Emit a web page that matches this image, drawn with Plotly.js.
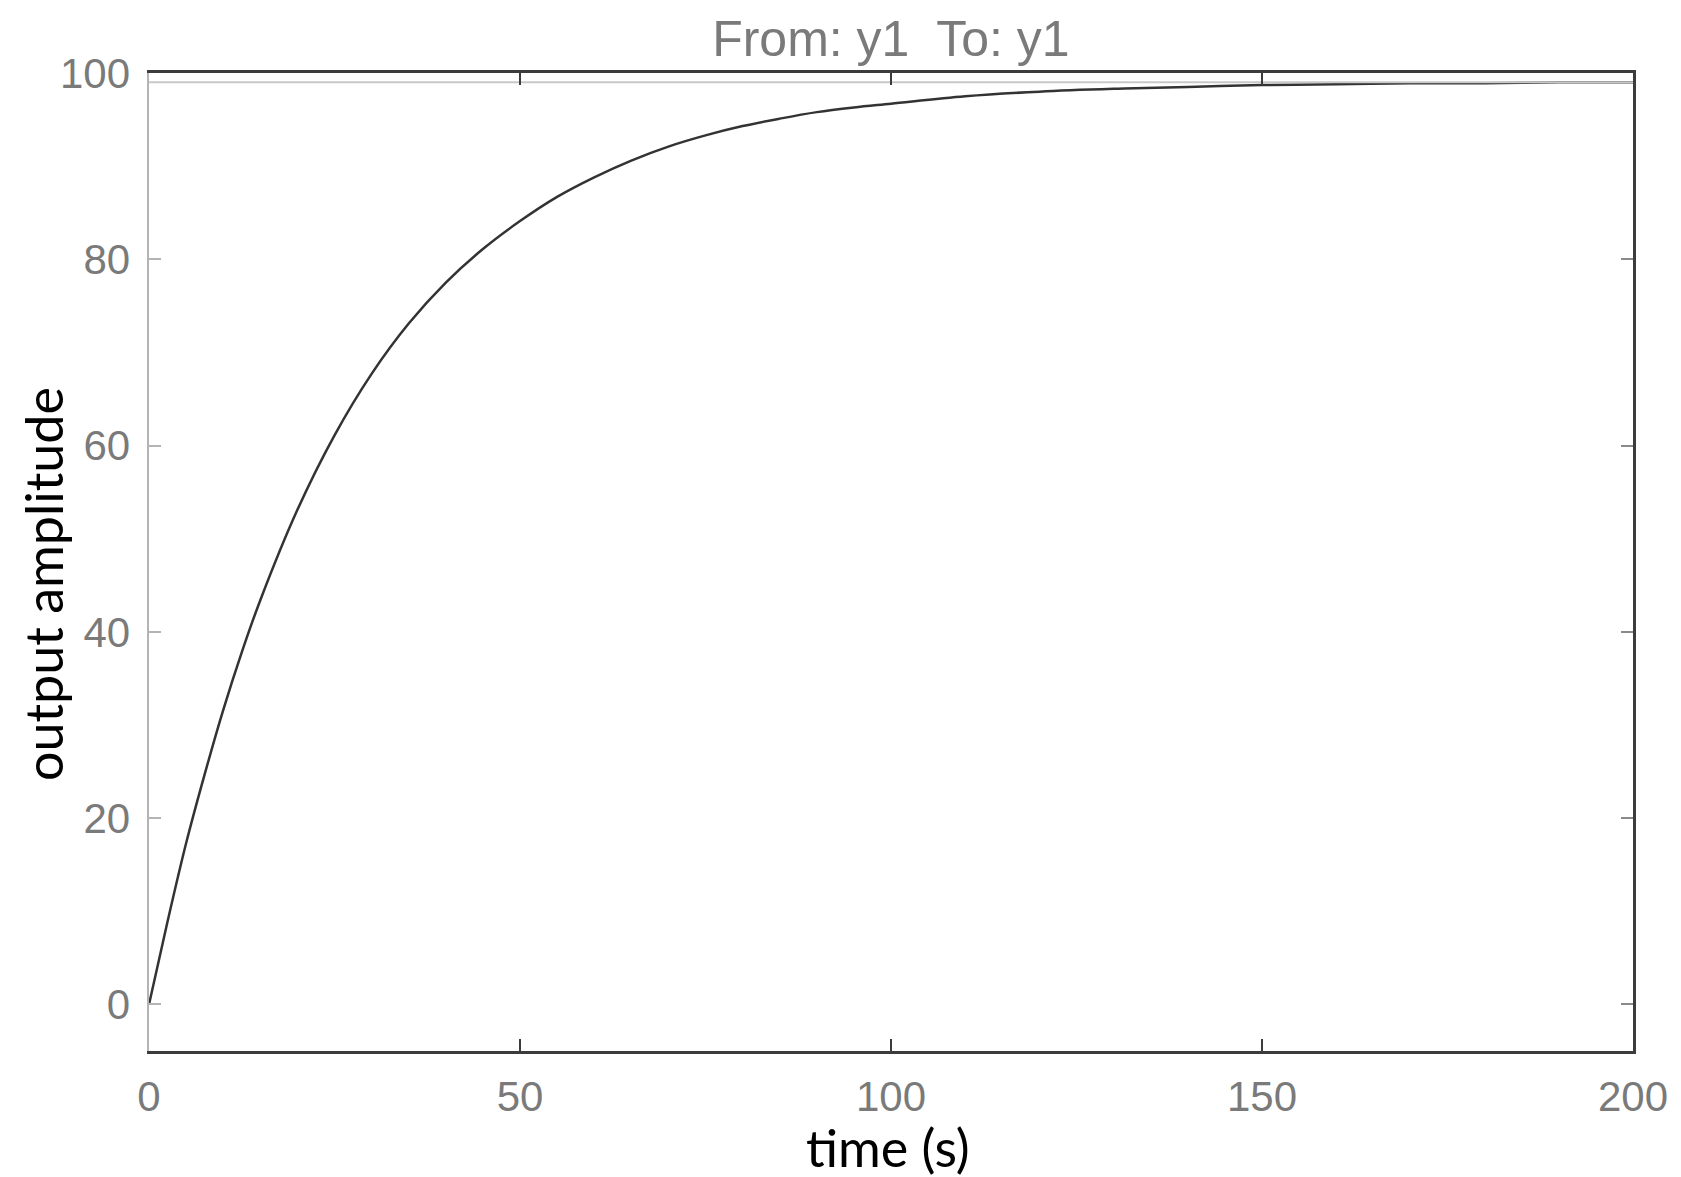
<!DOCTYPE html>
<html>
<head>
<meta charset="utf-8">
<script src="https://cdn.plot.ly/plotly-3.0.1.min.js"></script>
<style>
  html, body { margin: 0; padding: 0; background: #fff; }
  #chart { width: 1681px; height: 1177px; }
</style>
</head>
<body>
<div id="chart"></div>
<script>
// step response
const timeS = [0, 2.5, 5, 7.5, 10, 12.5, 15, 20, 25, 30, 35, 40, 45, 50, 55, 60, 65, 70, 75, 80, 85, 90, 95, 100, 110, 120, 130, 140, 150, 160, 170, 180, 190, 200];
const amplitude = [0, 8.9, 17.3, 24.7, 31.6, 37.8, 43.4, 53.1, 61.1, 67.7, 73.1, 77.5, 81.1, 84.1, 86.7, 88.8, 90.6, 92.1, 93.3, 94.3, 95.1, 95.8, 96.3, 96.7, 97.5, 98.0, 98.3, 98.5, 98.7, 98.8, 98.9, 98.9, 99.0, 99.0];

// steady-state reference line
const finalTime = [0, 200];
const finalValue = [99, 99];

const xTicks = [0, 50, 100, 150, 200];
const yTicks = [0, 20, 40, 60, 80, 100];

const dark = "#3c3c3c";
const light = "#b4b4b4";
const tickFont = { family: "Liberation Sans, Arial, sans-serif", size: 42, color: "#7a7a7a" };
const labelFont = { family: "Lato, sans-serif", size: 52, color: "#000" };

const traces = [
  {
    type: "scatter",
    mode: "lines",
    x: finalTime,
    y: finalValue,
    xaxis: "x2",
    yaxis: "y2",
    line: { color: "#c8c8c8", width: 2 },
    hoverinfo: "skip",
  },
  {
    type: "scatter",
    mode: "lines",
    x: timeS,
    y: amplitude,
    line: { color: "#333333", width: 2.5, shape: "spline", smoothing: 1 },
  },
];

const layout = {
  width: 1681,
  height: 1177,
  margin: { l: 149, r: 48, t: 73, b: 126 },
  paper_bgcolor: "#fff",
  plot_bgcolor: "#fff",
  showlegend: false,
  title: {
    text: "From: y1  To: y1",
    font: { family: "Liberation Sans, Arial, sans-serif", size: 50, color: "#7a7a7a" },
    x: 0.53,
    xanchor: "center",
    y: 0.967,
    yanchor: "middle",
  },
  xaxis: {
    range: [0, 200],
    tickvals: xTicks,
    ticks: "inside",
    ticklen: 12,
    tickwidth: 2,
    tickcolor: dark,
    showline: true,
    linecolor: dark,
    linewidth: 3,
    showgrid: false,
    zeroline: false,
    tickfont: tickFont,
    ticklabelstandoff: 7,
  },
  xaxis2: {
    range: [0, 200],
    overlaying: "x",
    side: "top",
    anchor: "y2",
    tickvals: xTicks,
    ticks: "inside",
    ticklen: 12,
    tickwidth: 2,
    tickcolor: dark,
    showticklabels: false,
    showline: true,
    linecolor: dark,
    linewidth: 3,
    showgrid: false,
    zeroline: false,
  },
  yaxis: {
    range: [-5, 100],
    tickvals: yTicks,
    ticks: "inside",
    ticklen: 12,
    tickwidth: 2,
    tickcolor: light,
    showline: true,
    linecolor: light,
    linewidth: 2.5,
    showgrid: false,
    zeroline: false,
    tickfont: tickFont,
    ticklabelstandoff: 8,
  },
  yaxis2: {
    range: [-5, 100],
    overlaying: "y",
    side: "right",
    anchor: "x2",
    tickvals: yTicks,
    ticks: "inside",
    ticklen: 12,
    tickwidth: 2,
    tickcolor: "#8a8a8a",
    showticklabels: false,
    showline: true,
    linecolor: dark,
    linewidth: 3,
    showgrid: false,
    zeroline: false,
  },
  // axis titles placed as annotations to sit where the original puts them
  annotations: [
    {
      text: "time (s)",
      xref: "paper", yref: "paper",
      x: 0.498, y: -0.098,
      xanchor: "center", yanchor: "middle",
      showarrow: false,
      font: labelFont,
    },
    {
      text: "output amplitude",
      xref: "paper", yref: "paper",
      x: -0.0714, y: 0.4775,
      xanchor: "center", yanchor: "middle",
      textangle: -90,
      showarrow: false,
      font: labelFont,
    },
  ],
};

Plotly.newPlot("chart", traces, layout, { displayModeBar: false, staticPlot: true });
</script>
</body>
</html>
